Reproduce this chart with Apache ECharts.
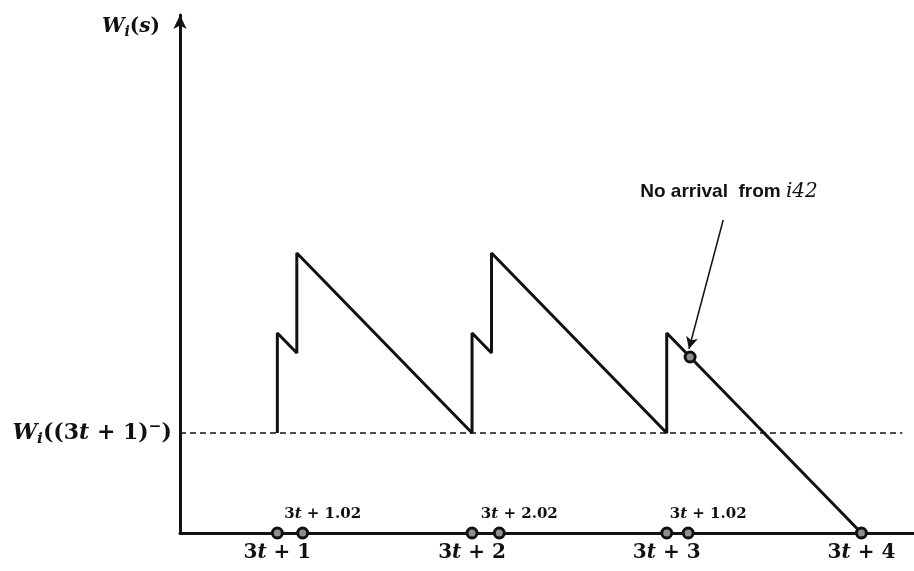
<!DOCTYPE html>
<html>
<head>
<meta charset="utf-8">
<script src="https://cdn.jsdelivr.net/npm/echarts@6/dist/echarts.min.js"></script>
<style>
  html, body { margin: 0; padding: 0; background: #fff; }
  #chart { width: 914px; height: 571px; }
</style>
</head>
<body>
<div id="chart"></div>
<script>
// ---- data (x in units of s - 3t) ----
const xTickValues = [1, 2, 3, 4];
const xTickLabels = ['3t + 1', '3t + 2', '3t + 3', '3t + 4'];
const yTickValues = [0.5];
const yTickLabels = ['W_i((3t + 1)^-)'];
const yAxisName = 'W_i(s)';
const waitingX = [1, 1, 1.1, 1.1, 2, 2, 2.1, 2.1, 3, 3, 4];
const waitingY = [0.5, 1.0, 0.9, 1.4, 0.5, 1.0, 0.9, 1.4, 0.5, 1.0, 0.0];
const arrivalDotsX = [1, 1.13, 2, 2.14, 3, 3.11, 4];
const subLabelX = [1.13, 2.14, 3.11];
const subLabels = ['3t + 1.02', '3t + 2.02', '3t + 1.02'];
const baselineLevel = 0.5;
const baselineEndX = 4.21;
const noArrivalPoint = [3.12, 0.88];
const noteArrowFrom = [3.29, 1.565];
const noteArrowTo = [3.114, 0.92];
const notePoint = [3.32, 1.705];
const noteTextPlain = 'No arrival  from ';
const noteTextMath = 'i42';

const SERIF = '"DejaVu Serif", "Liberation Serif", serif';
const SANS = '"Liberation Sans", Arial, sans-serif';
const INK = '#111';

function richFor(size) {
  return {
    n: { fontFamily: SERIF, fontSize: size, fontWeight: 'bold', color: INK, lineHeight: size * 1.2 },
    it: { fontFamily: SERIF, fontSize: size, fontWeight: 'bold', fontStyle: 'italic', color: INK, lineHeight: size * 1.2 },
    sub: { fontFamily: SERIF, fontSize: size * 0.7, fontWeight: 'bold', fontStyle: 'italic', color: INK, lineHeight: size * 0.75, verticalAlign: 'bottom' },
    sup: { fontFamily: SERIF, fontSize: size * 0.7, fontWeight: 'bold', color: INK, lineHeight: size * 0.75, verticalAlign: 'top' }
  };
}

// Turn a simple math string into ECharts rich text: letters italic, _x subscript, ^x superscript
function texify(s) {
  let out = '';
  for (let k = 0; k < s.length; k++) {
    const c = s[k];
    if (c === '_' || c === '^') {
      let ch = s[k + 1];
      if (ch === '-') ch = '\u2212';
      out += '{' + (c === '_' ? 'sub' : 'sup') + '|' + ch + '}';
      k++;
    } else if (/[A-Za-z]/.test(c)) {
      out += '{it|' + c + '}';
    } else {
      out += '{n|' + c + '}';
    }
  }
  return out;
}

const dotStyle = { color: '#8f8f8f', borderColor: INK, borderWidth: 3, opacity: 1 };

const chart = echarts.init(document.getElementById('chart'), null, { renderer: 'canvas' });
chart.setOption({
  animation: false,
  backgroundColor: '#fff',
  grid: { left: 180, right: 0, top: 15, bottom: 38 },
  xAxis: {
    type: 'value', min: 0.5, max: 4.27,
    splitLine: { show: false },
    axisTick: { show: false },
    axisLine: { onZero: false, lineStyle: { color: INK, width: 3 } },
    axisLabel: {
      customValues: xTickValues,
      margin: 8,
      formatter: v => texify(xTickLabels[xTickValues.indexOf(v)]),
      rich: richFor(20)
    }
  },
  yAxis: {
    type: 'value', min: 0, max: 2.59,
    splitLine: { show: false },
    axisTick: { show: false },
    axisLine: { symbol: ['none', 'arrow'], symbolSize: [10, 14], lineStyle: { color: INK, width: 3 } },
    axisLabel: {
      customValues: yTickValues,
      margin: 8,
      formatter: v => texify(yTickLabels[yTickValues.indexOf(v)]),
      rich: richFor(22)
    },
    name: texify(yAxisName),
    nameLocation: 'end',
    nameGap: -12,
    nameTextStyle: { align: 'right', verticalAlign: 'middle', padding: [0, 20, 0, 0], rich: richFor(20) }
  },
  series: [
    {
      name: 'W', type: 'line', z: 3,
      data: waitingX.map((x, i) => [x, waitingY[i]]),
      showSymbol: false, symbol: 'none',
      lineStyle: { color: INK, width: 3 },
      markLine: {
        silent: true, symbol: 'none', label: { show: false },
        lineStyle: { type: [6, 4], width: 1.5, color: INK },
        data: [[{ coord: [0.5, baselineLevel] }, { coord: [baselineEndX, baselineLevel] }]]
      }
    },
    {
      name: 'arrivals', type: 'scatter', z: 5, clip: false,
      symbolSize: 10,
      itemStyle: dotStyle,
      data: arrivalDotsX.map(x => [x, 0])
    },
    {
      name: 'arrivalLabels', type: 'scatter', z: 6, clip: false,
      symbolSize: 0,
      itemStyle: { opacity: 1, color: INK },
      data: subLabelX.map(x => [x, 0]),
      label: {
        show: true, position: 'top', distance: 10, offset: [20, 0], color: INK, opacity: 1,
        formatter: p => texify(subLabels[p.dataIndex]),
        rich: richFor(15)
      }
    },
    {
      name: 'noArrival', type: 'scatter', z: 6, clip: false,
      symbolSize: 10,
      itemStyle: dotStyle,
      data: [noArrivalPoint],
      markLine: {
        silent: true, symbol: ['none', 'arrow'], symbolSize: [9, 12],
        label: { show: false },
        lineStyle: { type: 'solid', width: 1.5, color: INK, opacity: 1 },
        data: [[{ coord: noteArrowFrom }, { coord: noteArrowTo }]]
      }
    },
    {
      name: 'note', type: 'scatter', z: 6, clip: false,
      symbolSize: 0,
      itemStyle: { opacity: 1, color: INK },
      data: [notePoint],
      label: {
        show: true, position: 'inside', color: INK, opacity: 1,
        formatter: () => '{s|' + noteTextPlain + '}{m|' + noteTextMath + '}',
        rich: {
          s: { fontFamily: SANS, fontSize: 19, fontWeight: 'bold', color: INK },
          m: { fontFamily: SERIF, fontSize: 20, fontStyle: 'italic', color: INK }
        }
      }
    }
  ]
});
</script>
</body>
</html>
